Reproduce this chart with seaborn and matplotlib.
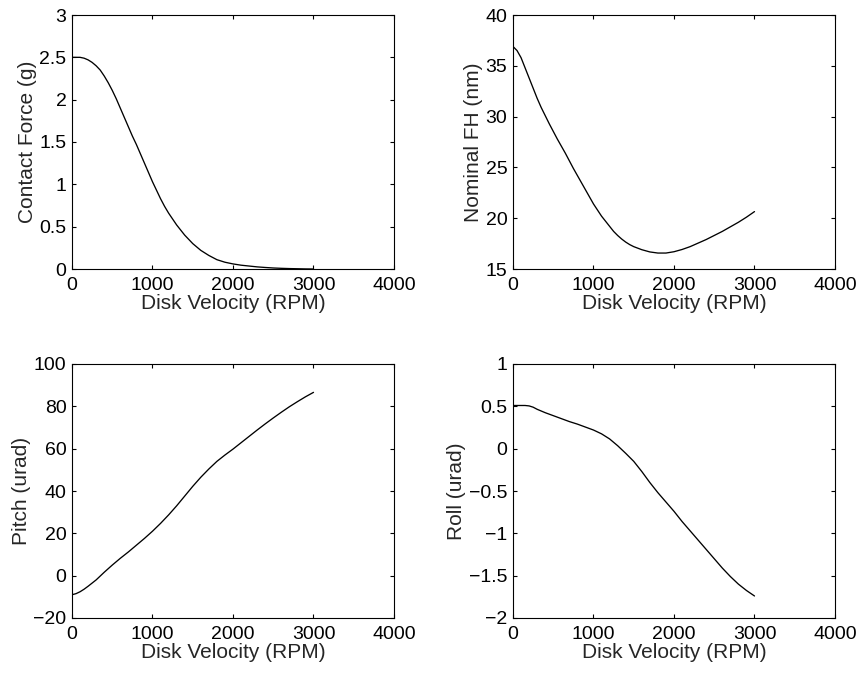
import numpy as np
import pandas as pd
import matplotlib
matplotlib.use("Agg")
import matplotlib.pyplot as plt
import seaborn as sns

# ---- data ----
rpm_force = [0, 50, 100, 150, 200, 250, 300, 350, 400, 450, 500, 550, 600, 650, 700,
             750, 800, 850, 900, 950, 1000, 1050, 1100, 1150, 1200, 1250, 1300, 1350,
             1400, 1450, 1500, 1550, 1600, 1650, 1700, 1750, 1800, 1900, 2000, 2100,
             2200, 2300, 2400, 2500, 2600, 2700, 2800, 2900, 3000]
contact_force = [2.50, 2.50, 2.50, 2.49, 2.47, 2.44, 2.40, 2.35, 2.28, 2.20, 2.11, 2.01,
                 1.90, 1.79, 1.68, 1.57, 1.47, 1.36, 1.25, 1.14, 1.03, 0.93, 0.83, 0.74,
                 0.66, 0.59, 0.52, 0.46, 0.40, 0.35, 0.30, 0.26, 0.22, 0.19, 0.16, 0.135,
                 0.11, 0.08, 0.06, 0.045, 0.035, 0.025, 0.018, 0.012, 0.008, 0.005,
                 0.003, 0.001, 0.0]

rpm_fh = [0, 50, 100, 150, 200, 250, 300, 350, 400, 450, 500, 550, 600, 650, 700, 750,
          800, 850, 900, 950, 1000, 1050, 1100, 1150, 1200, 1250, 1300, 1350, 1400,
          1450, 1500, 1600, 1700, 1800, 1900, 2000, 2100, 2200, 2300, 2400, 2500,
          2600, 2700, 2800, 2900, 3000]
nominal_fh = [36.9, 36.5, 35.8, 34.8, 33.8, 32.8, 31.8, 30.9, 30.1, 29.3, 28.55, 27.8,
              27.1, 26.4, 25.65, 24.9, 24.2, 23.5, 22.8, 22.1, 21.4, 20.8, 20.2, 19.7,
              19.2, 18.7, 18.3, 17.95, 17.65, 17.4, 17.2, 16.9, 16.68, 16.57, 16.57,
              16.7, 16.92, 17.2, 17.55, 17.9, 18.3, 18.7, 19.15, 19.6, 20.1, 20.65]

rpm_pitch = [0, 50, 100, 150, 200, 250, 300, 350, 400, 500, 600, 700, 800, 900, 1000,
             1100, 1200, 1300, 1400, 1500, 1600, 1700, 1800, 1900, 2000, 2100, 2200,
             2300, 2400, 2500, 2600, 2700, 2800, 2900, 3000]
pitch = [-9.0, -8.5, -7.6, -6.4, -5.0, -3.5, -2.0, -0.2, 1.6, 5.0, 8.2, 11.2, 14.4,
         17.6, 21.0, 24.7, 28.7, 33.0, 37.6, 42.2, 46.5, 50.4, 54.0, 57.0, 59.8, 62.8,
         65.8, 68.8, 71.7, 74.5, 77.2, 79.8, 82.2, 84.5, 86.6]

rpm_roll = [0, 100, 150, 200, 250, 300, 350, 400, 500, 600, 700, 800, 900, 1000, 1100,
            1200, 1300, 1400, 1500, 1600, 1700, 1800, 1900, 2000, 2100, 2200, 2300,
            2400, 2500, 2600, 2700, 2800, 2900, 3000]
roll = [0.51, 0.51, 0.51, 0.505, 0.49, 0.465, 0.445, 0.425, 0.39, 0.355, 0.32, 0.29,
        0.255, 0.22, 0.175, 0.115, 0.035, -0.055, -0.15, -0.27, -0.40, -0.52, -0.63,
        -0.74, -0.86, -0.97, -1.08, -1.19, -1.30, -1.41, -1.51, -1.60, -1.675, -1.74]

x_label = "Disk Velocity (RPM)"
x_ticks = [0, 1000, 2000, 3000, 4000]

panels = [
    (rpm_force, contact_force, "Contact Force (g)", (0, 3), [0, 0.5, 1, 1.5, 2, 2.5, 3],
     ["0", "0.5", "1", "1.5", "2", "2.5", "3"]),
    (rpm_fh, nominal_fh, "Nominal FH (nm)", (15, 40), [15, 20, 25, 30, 35, 40],
     ["15", "20", "25", "30", "35", "40"]),
    (rpm_pitch, pitch, "Pitch (urad)", (-20, 100), [-20, 0, 20, 40, 60, 80, 100],
     ["\u221220", "0", "20", "40", "60", "80", "100"]),
    (rpm_roll, roll, "Roll (urad)", (-2, 1), [-2, -1.5, -1, -0.5, 0, 0.5, 1],
     ["\u22122", "\u22121.5", "\u22121", "\u22120.5", "0", "0.5", "1"]),
]

sns.set_style("white")
plt.rcParams["font.family"] = ["Liberation Sans", "DejaVu Sans"]
plt.rcParams["axes.linewidth"] = 0.8

fig = plt.figure(figsize=(8.62, 6.73), dpi=100)
W, H = 862, 673
boxes = [(72, 15), (513, 15), (72, 364), (513, 364)]
aw, ah = 322, 254

for (xs, ys, ylab, ylim, yt, ytl), (px, py) in zip(panels, boxes):
    ax = fig.add_axes([px / W, 1 - (py + ah) / H, aw / W, ah / H])
    df = pd.DataFrame({"x": xs, "y": ys})
    sns.lineplot(data=df, x="x", y="y", ax=ax, color="black", linewidth=0.95)
    ax.set_xlim(0, 4000)
    ax.set_ylim(*ylim)
    ax.set_xticks(x_ticks)
    ax.set_xticklabels([str(t) for t in x_ticks])
    ax.set_yticks(yt)
    ax.set_yticklabels(ytl)
    ax.set_xlabel(x_label, fontsize=15, labelpad=0)
    ax.set_ylabel(ylab, fontsize=15, labelpad=2)
    ax.tick_params(direction="in", length=3, width=0.8, top=True, right=True,
                   bottom=True, left=True, labelsize=14, colors="black")
    ax.tick_params(axis="x", pad=6)
    ax.tick_params(axis="y", pad=4)
    for s in ax.spines.values():
        s.set_visible(True)
        s.set_color("black")
        s.set_linewidth(0.8)

fig.savefig("out.png", dpi=100, facecolor="white")
